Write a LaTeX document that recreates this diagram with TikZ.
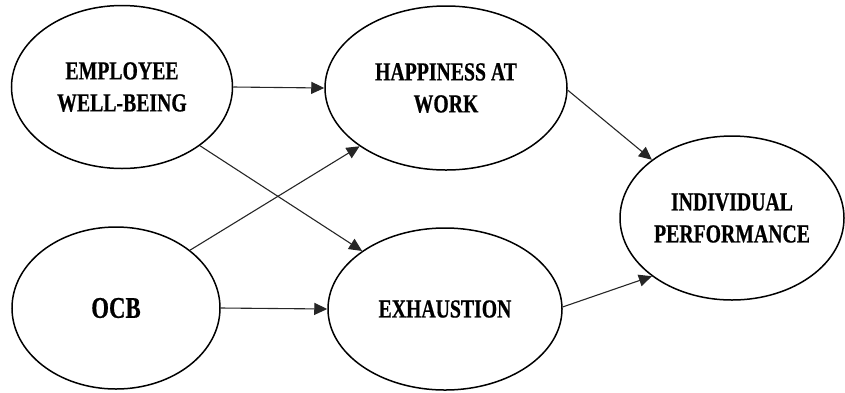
\documentclass[tikz,border=0pt]{standalone}
\usepackage{fontspec}
\setmainfont{Liberation Serif}[FakeStretch=0.76,FakeBold=0.6]
\usetikzlibrary{shapes.geometric,arrows.meta}
\begin{document}
\begin{tikzpicture}[x=1pt,y=-1pt,
  construct/.style={ellipse,draw=black,line width=1.5pt,inner sep=0pt,
    align=center,font=\fontsize{26}{32}\selectfont\bfseries},
  path/.style={draw=black!85,line width=1.1pt,
    -{Triangle[length=13pt,width=12pt]}}]
\useasboundingbox (0,0) rectangle (845,392);
% latent constructs
\node[construct,minimum width=221pt,minimum height=163pt] (ewb) at (122,87) {EMPLOYEE\\WELL-BEING};
\node[construct,minimum width=208pt,minimum height=162pt,font=\fontsize{30}{36}\selectfont\bfseries] (ocb) at (116,308) {OCB};
\node[construct,minimum width=242pt,minimum height=164pt] (haw) at (446,88) {HAPPINESS AT\\WORK};
\node[construct,minimum width=234pt,minimum height=162pt] (exh) at (445,309) {EXHAUSTION};
\node[construct,minimum width=224pt,minimum height=164pt] (ip) at (732,218) {INDIVIDUAL\\PERFORMANCE};
% structural paths
\draw[path] (ewb.east) -- (haw.west);
\draw[path] (ocb.east) -- (exh.west);
\draw[path] (ewb.-37) -- (exh.145);
\draw[path] (ocb.38) -- (haw.214);
\draw[path] (haw.-1) -- (ip.144);
\draw[path] (exh.1) -- (ip.216);
\end{tikzpicture}
\end{document}
